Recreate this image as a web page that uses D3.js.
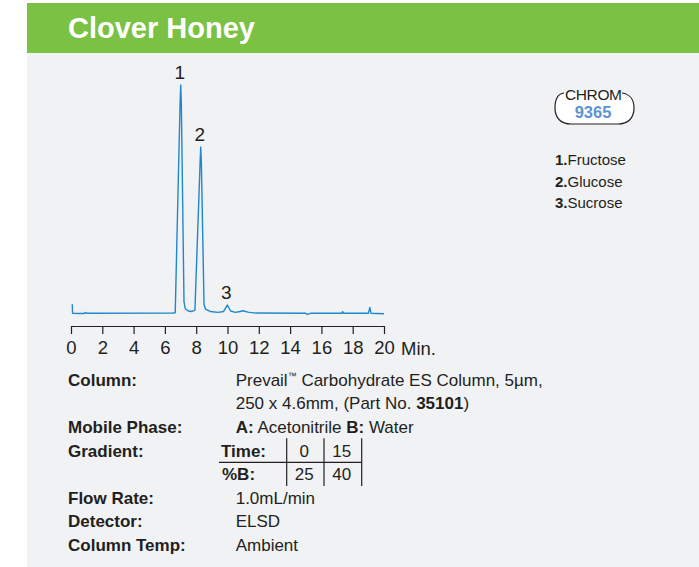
<!DOCTYPE html>
<html>
<head>
<meta charset="utf-8">
<script src="https://cdn.jsdelivr.net/npm/d3@7"></script>
<style>
  body { margin: 0; background: #fff; }
  svg { display: block; font-family: "Liberation Sans", Arial, sans-serif; }
</style>
</head>
<body>
<svg id="chart" width="699" height="567"></svg>
<script>
// chromatogram trace (minutes, relative response)
const times  = [0.08, 0.1, 0.5, 0.85, 0.9, 1.0, 6.5, 6.66, 6.97, 7.01, 7.05, 7.22, 7.3, 7.5, 7.7, 7.85,
                7.92, 8.25, 8.29, 8.33, 8.5, 8.6, 8.9, 9.4, 9.75, 9.99, 10.2, 10.5, 10.8, 11.0, 11.3,
                11.8, 15.0, 15.1, 15.3, 17.3, 17.36, 17.42, 19.0, 19.1, 19.17, 20.0];
const signal = [4.0, 0, -0.1, -0.1, 0.4, 0.05, 0.1, 0.2, 92, 100, 92, 5, 2, 1, 0.8, 1.2,
                1.5, 66, 72.8, 66, 4, 1.8, 0.8, 0.4, 0.8, 3.6, 1.0, 0.4, 0.8, 1.1, 0.5,
                0.1, 0, -0.5, 0, 0, 0.7, 0, 0, 2.6, 0, -0.2];

const peakIds = ["1", "2", "3"];
const peakTimes = [7.01, 8.29, 9.99];
const peakHeights = [100, 72.8, 3.6];
const compounds = ["Fructose", "Glucose", "Sucrose"];

const xTicks = [0, 2, 4, 6, 8, 10, 12, 14, 16, 18, 20];

const gradTime = ["0", "15"];
const gradB = ["25", "40"];

const ink = "#231f20";
const svg = d3.select("#chart");

// background panels
svg.append("rect").attr("x", 27).attr("y", 53).attr("width", 672).attr("height", 514).attr("fill", "#f1f2f4");
svg.append("rect").attr("x", 27).attr("y", 3).attr("width", 672).attr("height", 50).attr("fill", "#7bc143");
svg.append("text").attr("x", 68).attr("y", 38)
  .attr("fill", "#fff").attr("font-size", 29).attr("font-weight", "bold")
  .text("Clover Honey");

// scales
const x = d3.scaleLinear().domain([0, 20]).range([71, 384]);
const y = d3.scaleLinear().domain([0, 100]).range([313.3, 85]);

// axis
const axis = d3.axisBottom(x).tickValues(xTicks).tickSize(8).tickSizeOuter(0).tickPadding(7);
const gx = svg.append("g").attr("transform", "translate(0,326)").call(axis);
gx.select(".domain").attr("stroke", ink).attr("stroke-width", 1.2);
gx.selectAll(".tick line").attr("stroke", ink).attr("stroke-width", 1.2);
gx.selectAll(".tick text").attr("fill", ink).attr("font-size", 18.5)
  .attr("font-family", "'Liberation Sans', Arial, sans-serif");
svg.append("text").attr("x", 401).attr("y", 354.5).attr("fill", ink).attr("font-size", 18.5).text("Min.");

// trace
const pts = times.map((t, i) => [t, signal[i]]);
const line = d3.line().x(d => x(d[0])).y(d => y(d[1]));
svg.append("path").datum(pts).attr("d", line)
  .attr("fill", "none").attr("stroke", "#2186cc").attr("stroke-width", 1.4)
  .attr("stroke-linejoin", "round");

// peak labels
svg.selectAll(".peak").data(peakIds).enter().append("text")
  .attr("class", "peak")
  .attr("x", (d, i) => x(peakTimes[i]) - 1)
  .attr("y", (d, i) => y(peakHeights[i]) - 6.5)
  .attr("text-anchor", "middle").attr("font-size", 19).attr("fill", ink)
  .text(d => d);

// CHROM badge
svg.append("path")
  .attr("d", "M564,93 C557,94 555,100 555,108 C555,118 561,124 571,124 L618,124 C628,124 634,118 634,108 C634,100 630,94 622,93")
  .attr("fill", "#fff").attr("stroke", ink).attr("stroke-width", 1.2);
svg.append("text").attr("x", 593.5).attr("y", 99.5).attr("text-anchor", "middle")
  .attr("font-size", 15.5).attr("fill", ink).attr("textLength", 57).text("CHROM");
svg.append("text").attr("x", 593).attr("y", 117.5).attr("text-anchor", "middle")
  .attr("font-size", 16.5).attr("font-weight", "bold").attr("fill", "#5b93d3").text("9365");

// legend
const leg = svg.selectAll(".leg").data(compounds).enter().append("text")
  .attr("class", "leg").attr("x", 555).attr("y", (d, i) => 165 + i * 21.5)
  .attr("font-size", 15).attr("fill", ink);
leg.append("tspan").attr("font-weight", "bold").text((d, i) => peakIds[i] + ".");
leg.append("tspan").text(d => d);

// method details
const labels = ["Column:", "Mobile Phase:", "Gradient:", "Flow Rate:", "Detector:", "Column Temp:"];
const labelY = [385.7, 432.7, 456.7, 504, 526.7, 550.7];
svg.selectAll(".lab").data(labels).enter().append("text")
  .attr("class", "lab").attr("x", 68).attr("y", (d, i) => labelY[i])
  .attr("font-size", 17).attr("font-weight", "bold").attr("fill", ink).text(d => d);

function rich(xp, yp, parts) {
  const t = svg.append("text").attr("x", xp).attr("y", yp).attr("font-size", 17).attr("fill", ink);
  parts.forEach(p => {
    const s = t.append("tspan").text(p[0]);
    if (p[1] === "b") s.attr("font-weight", "bold");
    if (p[1] === "sup") s.attr("font-size", 9).attr("dy", -7);
    if (p[1] === "after") s.attr("dy", 7);
  });
}
rich(235.7, 385.7, [["Prevail"], ["\u2122", "sup"], [" Carbohydrate ES Column, 5\u00b5m,", "after"]]);
rich(235.7, 409.3, [["250 x 4.6mm, (Part No. "], ["35101", "b"], [")"]]);
rich(235.7, 432.7, [["A:", "b"], [" Acetonitrile "], ["B:", "b"], [" Water"]]);
rich(235.7, 504, [["1.0mL/min"]]);
rich(235.7, 526.7, [["ELSD"]]);
rich(235.7, 550.7, [["Ambient"]]);

// gradient table
svg.append("text").attr("x", 221).attr("y", 456.7).attr("font-size", 17).attr("font-weight", "bold").attr("fill", ink).text("Time:");
svg.append("text").attr("x", 222).attr("y", 480).attr("font-size", 17).attr("font-weight", "bold").attr("fill", ink).text("%B:");
const colX = [304.3, 341.7];
svg.selectAll(".gt").data(gradTime).enter().append("text")
  .attr("x", (d, i) => colX[i]).attr("y", 456.7).attr("text-anchor", "middle")
  .attr("font-size", 17).attr("fill", ink).text(d => d);
svg.selectAll(".gb").data(gradB).enter().append("text")
  .attr("x", (d, i) => colX[i]).attr("y", 480).attr("text-anchor", "middle")
  .attr("font-size", 17).attr("fill", ink).text(d => d);
svg.append("line").attr("x1", 219).attr("x2", 361.7).attr("y1", 462.3).attr("y2", 462.3)
  .attr("stroke", ink).attr("stroke-width", 1.2);
[286.7, 324, 361.7].forEach(vx => {
  svg.append("line").attr("x1", vx).attr("x2", vx).attr("y1", 438.3).attr("y2", 486)
    .attr("stroke", ink).attr("stroke-width", 1.2);
});
</script>
</body>
</html>
